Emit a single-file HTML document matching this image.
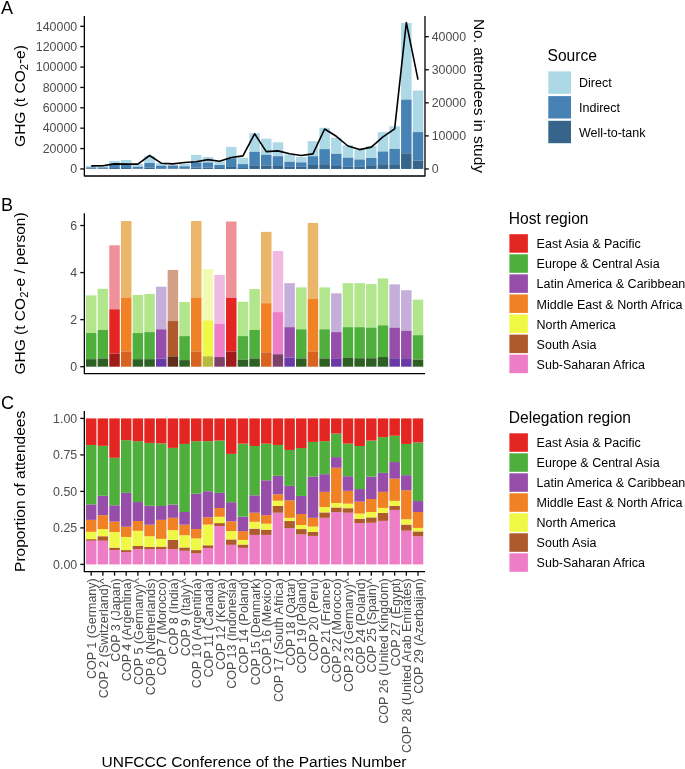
<!DOCTYPE html>
<html><head><meta charset="utf-8"><style>html,body{margin:0;padding:0;background:#ffffff;}body{width:685px;height:769px;overflow:hidden;position:relative;font-family:"Liberation Sans", sans-serif;}</style></head><body>
<svg width="685" height="769" viewBox="0 0 685 769" style="position:absolute;left:0;top:0;will-change:transform" font-family='"Liberation Sans", sans-serif'>
<rect x="0" y="0" width="685" height="769" fill="#ffffff"/>
<rect x="85.95" y="166.00" width="10.50" height="1.40" fill="#add8e6"/>
<rect x="85.95" y="167.40" width="10.50" height="0.90" fill="#4682b4"/>
<rect x="85.95" y="168.30" width="10.50" height="0.65" fill="#36648b"/>
<rect x="97.62" y="166.20" width="10.50" height="1.20" fill="#add8e6"/>
<rect x="97.62" y="167.40" width="10.50" height="0.90" fill="#4682b4"/>
<rect x="97.62" y="168.30" width="10.50" height="0.65" fill="#36648b"/>
<rect x="109.29" y="160.90" width="10.50" height="2.60" fill="#add8e6"/>
<rect x="109.29" y="163.50" width="10.50" height="4.50" fill="#4682b4"/>
<rect x="109.29" y="168.00" width="10.50" height="0.95" fill="#36648b"/>
<rect x="120.96" y="160.00" width="10.50" height="3.80" fill="#add8e6"/>
<rect x="120.96" y="163.80" width="10.50" height="4.20" fill="#4682b4"/>
<rect x="120.96" y="168.00" width="10.50" height="0.95" fill="#36648b"/>
<rect x="132.64" y="164.10" width="10.50" height="2.70" fill="#add8e6"/>
<rect x="132.64" y="166.80" width="10.50" height="1.50" fill="#4682b4"/>
<rect x="132.64" y="168.30" width="10.50" height="0.65" fill="#36648b"/>
<rect x="144.31" y="156.00" width="10.50" height="7.00" fill="#add8e6"/>
<rect x="144.31" y="163.00" width="10.50" height="4.50" fill="#4682b4"/>
<rect x="144.31" y="167.50" width="10.50" height="1.45" fill="#36648b"/>
<rect x="155.98" y="163.10" width="10.50" height="2.60" fill="#add8e6"/>
<rect x="155.98" y="165.70" width="10.50" height="2.60" fill="#4682b4"/>
<rect x="155.98" y="168.30" width="10.50" height="0.65" fill="#36648b"/>
<rect x="167.65" y="165.30" width="10.50" height="0.20" fill="#add8e6"/>
<rect x="167.65" y="165.50" width="10.50" height="2.80" fill="#4682b4"/>
<rect x="167.65" y="168.30" width="10.50" height="0.65" fill="#36648b"/>
<rect x="179.32" y="163.80" width="10.50" height="2.50" fill="#add8e6"/>
<rect x="179.32" y="166.30" width="10.50" height="2.00" fill="#4682b4"/>
<rect x="179.32" y="168.30" width="10.50" height="0.65" fill="#36648b"/>
<rect x="190.99" y="155.00" width="10.50" height="7.40" fill="#add8e6"/>
<rect x="190.99" y="162.40" width="10.50" height="5.10" fill="#4682b4"/>
<rect x="190.99" y="167.50" width="10.50" height="1.45" fill="#36648b"/>
<rect x="202.66" y="157.00" width="10.50" height="5.50" fill="#add8e6"/>
<rect x="202.66" y="162.50" width="10.50" height="5.00" fill="#4682b4"/>
<rect x="202.66" y="167.50" width="10.50" height="1.45" fill="#36648b"/>
<rect x="214.33" y="161.50" width="10.50" height="3.50" fill="#add8e6"/>
<rect x="214.33" y="165.00" width="10.50" height="3.00" fill="#4682b4"/>
<rect x="214.33" y="168.00" width="10.50" height="0.95" fill="#36648b"/>
<rect x="226.01" y="146.90" width="10.50" height="11.30" fill="#add8e6"/>
<rect x="226.01" y="158.20" width="10.50" height="8.80" fill="#4682b4"/>
<rect x="226.01" y="167.00" width="10.50" height="1.95" fill="#36648b"/>
<rect x="237.68" y="157.70" width="10.50" height="6.40" fill="#add8e6"/>
<rect x="237.68" y="164.10" width="10.50" height="3.90" fill="#4682b4"/>
<rect x="237.68" y="168.00" width="10.50" height="0.95" fill="#36648b"/>
<rect x="249.35" y="133.20" width="10.50" height="18.70" fill="#add8e6"/>
<rect x="249.35" y="151.90" width="10.50" height="13.40" fill="#4682b4"/>
<rect x="249.35" y="165.30" width="10.50" height="3.65" fill="#36648b"/>
<rect x="261.02" y="138.70" width="10.50" height="16.10" fill="#add8e6"/>
<rect x="261.02" y="154.80" width="10.50" height="10.80" fill="#4682b4"/>
<rect x="261.02" y="165.60" width="10.50" height="3.35" fill="#36648b"/>
<rect x="272.69" y="142.30" width="10.50" height="13.90" fill="#add8e6"/>
<rect x="272.69" y="156.20" width="10.50" height="9.80" fill="#4682b4"/>
<rect x="272.69" y="166.00" width="10.50" height="2.95" fill="#36648b"/>
<rect x="284.36" y="154.50" width="10.50" height="7.30" fill="#add8e6"/>
<rect x="284.36" y="161.80" width="10.50" height="5.00" fill="#4682b4"/>
<rect x="284.36" y="166.80" width="10.50" height="2.15" fill="#36648b"/>
<rect x="296.03" y="157.00" width="10.50" height="5.40" fill="#add8e6"/>
<rect x="296.03" y="162.40" width="10.50" height="4.40" fill="#4682b4"/>
<rect x="296.03" y="166.80" width="10.50" height="2.15" fill="#36648b"/>
<rect x="307.70" y="141.20" width="10.50" height="15.00" fill="#add8e6"/>
<rect x="307.70" y="156.20" width="10.50" height="8.80" fill="#4682b4"/>
<rect x="307.70" y="165.00" width="10.50" height="3.95" fill="#36648b"/>
<rect x="319.38" y="127.80" width="10.50" height="21.30" fill="#add8e6"/>
<rect x="319.38" y="149.10" width="10.50" height="15.10" fill="#4682b4"/>
<rect x="319.38" y="164.20" width="10.50" height="4.75" fill="#36648b"/>
<rect x="331.05" y="137.70" width="10.50" height="16.10" fill="#add8e6"/>
<rect x="331.05" y="153.80" width="10.50" height="12.20" fill="#4682b4"/>
<rect x="331.05" y="166.00" width="10.50" height="2.95" fill="#36648b"/>
<rect x="342.72" y="145.30" width="10.50" height="12.40" fill="#add8e6"/>
<rect x="342.72" y="157.70" width="10.50" height="9.10" fill="#4682b4"/>
<rect x="342.72" y="166.80" width="10.50" height="2.15" fill="#36648b"/>
<rect x="354.39" y="149.60" width="10.50" height="9.90" fill="#add8e6"/>
<rect x="354.39" y="159.50" width="10.50" height="7.30" fill="#4682b4"/>
<rect x="354.39" y="166.80" width="10.50" height="2.15" fill="#36648b"/>
<rect x="366.06" y="146.00" width="10.50" height="12.00" fill="#add8e6"/>
<rect x="366.06" y="158.00" width="10.50" height="8.00" fill="#4682b4"/>
<rect x="366.06" y="166.00" width="10.50" height="2.95" fill="#36648b"/>
<rect x="377.73" y="132.10" width="10.50" height="19.40" fill="#add8e6"/>
<rect x="377.73" y="151.50" width="10.50" height="12.70" fill="#4682b4"/>
<rect x="377.73" y="164.20" width="10.50" height="4.75" fill="#36648b"/>
<rect x="389.40" y="126.30" width="10.50" height="22.60" fill="#add8e6"/>
<rect x="389.40" y="148.90" width="10.50" height="15.30" fill="#4682b4"/>
<rect x="389.40" y="164.20" width="10.50" height="4.75" fill="#36648b"/>
<rect x="401.07" y="23.00" width="10.50" height="76.60" fill="#add8e6"/>
<rect x="401.07" y="99.60" width="10.50" height="53.70" fill="#4682b4"/>
<rect x="401.07" y="153.30" width="10.50" height="15.65" fill="#36648b"/>
<rect x="412.75" y="90.50" width="10.50" height="41.60" fill="#add8e6"/>
<rect x="412.75" y="132.10" width="10.50" height="28.50" fill="#4682b4"/>
<rect x="412.75" y="160.60" width="10.50" height="8.35" fill="#36648b"/>
<polyline points="91.20,165.90 102.87,165.80 114.55,163.90 126.22,164.10 137.89,164.10 149.56,155.50 161.23,163.20 172.90,163.90 184.57,162.50 196.24,161.70 207.92,159.60 219.59,161.30 231.26,157.50 242.93,155.90 254.60,133.80 266.27,151.60 277.94,150.90 289.61,153.80 301.28,155.50 312.96,153.90 324.63,129.00 336.30,136.30 347.97,146.00 359.64,149.60 371.31,147.10 382.98,136.90 394.65,128.80 406.33,22.60 418.00,79.60" fill="none" stroke="#000" stroke-width="1.6" stroke-linejoin="round"/>
<path d="M84.35,16.00 L84.35,176.00 L425.00,176.00 L425.00,16.00" fill="none" stroke="#000" stroke-width="1.3" stroke-linejoin="round"/>
<line x1="80.25" y1="168.95" x2="84.35" y2="168.95" stroke="#111" stroke-width="1.35"/>
<text x="77.20" y="173.25" font-size="12.4" fill="#4d4d4d" text-anchor="end" >0</text>
<line x1="80.25" y1="148.57" x2="84.35" y2="148.57" stroke="#111" stroke-width="1.35"/>
<text x="77.20" y="152.87" font-size="12.4" fill="#4d4d4d" text-anchor="end" >20000</text>
<line x1="80.25" y1="128.19" x2="84.35" y2="128.19" stroke="#111" stroke-width="1.35"/>
<text x="77.20" y="132.49" font-size="12.4" fill="#4d4d4d" text-anchor="end" >40000</text>
<line x1="80.25" y1="107.81" x2="84.35" y2="107.81" stroke="#111" stroke-width="1.35"/>
<text x="77.20" y="112.11" font-size="12.4" fill="#4d4d4d" text-anchor="end" >60000</text>
<line x1="80.25" y1="87.44" x2="84.35" y2="87.44" stroke="#111" stroke-width="1.35"/>
<text x="77.20" y="91.74" font-size="12.4" fill="#4d4d4d" text-anchor="end" >80000</text>
<line x1="80.25" y1="67.06" x2="84.35" y2="67.06" stroke="#111" stroke-width="1.35"/>
<text x="77.20" y="71.36" font-size="12.4" fill="#4d4d4d" text-anchor="end" >100000</text>
<line x1="80.25" y1="46.68" x2="84.35" y2="46.68" stroke="#111" stroke-width="1.35"/>
<text x="77.20" y="50.98" font-size="12.4" fill="#4d4d4d" text-anchor="end" >120000</text>
<line x1="80.25" y1="26.30" x2="84.35" y2="26.30" stroke="#111" stroke-width="1.35"/>
<text x="77.20" y="30.60" font-size="12.4" fill="#4d4d4d" text-anchor="end" >140000</text>
<line x1="425.00" y1="168.95" x2="428.80" y2="168.95" stroke="#111" stroke-width="1.35"/>
<text x="431.70" y="173.25" font-size="12.4" fill="#4d4d4d" text-anchor="start" >0</text>
<line x1="425.00" y1="135.89" x2="428.80" y2="135.89" stroke="#111" stroke-width="1.35"/>
<text x="431.70" y="140.19" font-size="12.4" fill="#4d4d4d" text-anchor="start" >10000</text>
<line x1="425.00" y1="102.82" x2="428.80" y2="102.82" stroke="#111" stroke-width="1.35"/>
<text x="431.70" y="107.12" font-size="12.4" fill="#4d4d4d" text-anchor="start" >20000</text>
<line x1="425.00" y1="69.76" x2="428.80" y2="69.76" stroke="#111" stroke-width="1.35"/>
<text x="431.70" y="74.06" font-size="12.4" fill="#4d4d4d" text-anchor="start" >30000</text>
<line x1="425.00" y1="36.70" x2="428.80" y2="36.70" stroke="#111" stroke-width="1.35"/>
<text x="431.70" y="41.00" font-size="12.4" fill="#4d4d4d" text-anchor="start" >40000</text>
<text transform="translate(24.8,96.00) rotate(-90)" font-size="15.5" text-anchor="middle">GHG (t CO<tspan font-size="11.16" dy="3">2</tspan><tspan dy="-3">-e)</tspan></text>
<text transform="translate(474.1,96.00) rotate(90)" font-size="15.5" text-anchor="middle">No. attendees in study</text>
<text x="1.00" y="13.90" font-size="18" fill="#000" text-anchor="start" >A</text>
<text x="547.50" y="61.30" font-size="15.6" fill="#000" text-anchor="start" >Source</text>
<rect x="548.30" y="71.40" width="22.70" height="22.40" fill="#add8e6"/>
<text x="579.00" y="87.20" font-size="12.5" fill="#000" text-anchor="start" >Direct</text>
<rect x="548.30" y="96.10" width="22.70" height="22.40" fill="#4682b4"/>
<text x="579.00" y="111.90" font-size="12.5" fill="#000" text-anchor="start" >Indirect</text>
<rect x="548.30" y="120.80" width="22.70" height="22.40" fill="#36648b"/>
<text x="579.00" y="136.60" font-size="12.5" fill="#000" text-anchor="start" >Well-to-tank</text>
<rect x="85.95" y="295.40" width="10.50" height="37.65" fill="#b2e68c"/>
<rect x="85.95" y="333.05" width="10.50" height="26.12" fill="#4eaf3c"/>
<rect x="85.95" y="359.17" width="10.50" height="7.53" fill="#2d5f23"/>
<rect x="97.62" y="288.82" width="10.50" height="41.18" fill="#b2e68c"/>
<rect x="97.62" y="329.99" width="10.50" height="28.47" fill="#4eaf3c"/>
<rect x="97.62" y="358.46" width="10.50" height="8.24" fill="#2d5f23"/>
<rect x="109.29" y="245.29" width="10.50" height="64.00" fill="#ee9198"/>
<rect x="109.29" y="309.29" width="10.50" height="44.24" fill="#e42622"/>
<rect x="109.29" y="353.52" width="10.50" height="13.18" fill="#a01c1a"/>
<rect x="120.96" y="221.05" width="10.50" height="76.47" fill="#ebb66a"/>
<rect x="120.96" y="297.52" width="10.50" height="53.88" fill="#f08124"/>
<rect x="120.96" y="351.41" width="10.50" height="15.29" fill="#d8621f"/>
<rect x="132.64" y="294.93" width="10.50" height="38.12" fill="#b2e68c"/>
<rect x="132.64" y="333.05" width="10.50" height="26.12" fill="#4eaf3c"/>
<rect x="132.64" y="359.17" width="10.50" height="7.53" fill="#2d5f23"/>
<rect x="144.31" y="293.99" width="10.50" height="38.12" fill="#b2e68c"/>
<rect x="144.31" y="332.11" width="10.50" height="27.06" fill="#4eaf3c"/>
<rect x="144.31" y="359.17" width="10.50" height="7.53" fill="#2d5f23"/>
<rect x="155.98" y="286.70" width="10.50" height="42.59" fill="#c5afda"/>
<rect x="155.98" y="329.29" width="10.50" height="29.18" fill="#964eaa"/>
<rect x="155.98" y="358.46" width="10.50" height="8.24" fill="#693aa5"/>
<rect x="167.65" y="269.99" width="10.50" height="51.06" fill="#d2a087"/>
<rect x="167.65" y="321.05" width="10.50" height="35.30" fill="#af5a2d"/>
<rect x="167.65" y="356.35" width="10.50" height="10.35" fill="#5f2d19"/>
<rect x="179.32" y="301.99" width="10.50" height="34.12" fill="#b2e68c"/>
<rect x="179.32" y="336.11" width="10.50" height="24.00" fill="#4eaf3c"/>
<rect x="179.32" y="360.11" width="10.50" height="6.59" fill="#2d5f23"/>
<rect x="190.99" y="221.05" width="10.50" height="76.47" fill="#ebb66a"/>
<rect x="190.99" y="297.52" width="10.50" height="53.88" fill="#f08124"/>
<rect x="190.99" y="351.41" width="10.50" height="15.29" fill="#d8621f"/>
<rect x="202.66" y="269.05" width="10.50" height="51.30" fill="#f3fab4"/>
<rect x="202.66" y="320.35" width="10.50" height="36.00" fill="#f0f846"/>
<rect x="202.66" y="356.35" width="10.50" height="10.35" fill="#b9b93c"/>
<rect x="214.33" y="274.93" width="10.50" height="48.71" fill="#f0b9e1"/>
<rect x="214.33" y="323.64" width="10.50" height="33.41" fill="#ee7dc8"/>
<rect x="214.33" y="357.05" width="10.50" height="9.65" fill="#7d4169"/>
<rect x="226.01" y="221.52" width="10.50" height="76.47" fill="#ee9198"/>
<rect x="226.01" y="297.99" width="10.50" height="53.41" fill="#e42622"/>
<rect x="226.01" y="351.41" width="10.50" height="15.29" fill="#a01c1a"/>
<rect x="237.68" y="301.76" width="10.50" height="34.35" fill="#b2e68c"/>
<rect x="237.68" y="336.11" width="10.50" height="23.53" fill="#4eaf3c"/>
<rect x="237.68" y="359.64" width="10.50" height="7.06" fill="#2d5f23"/>
<rect x="249.35" y="289.05" width="10.50" height="40.94" fill="#b2e68c"/>
<rect x="249.35" y="329.99" width="10.50" height="28.47" fill="#4eaf3c"/>
<rect x="249.35" y="358.46" width="10.50" height="8.24" fill="#2d5f23"/>
<rect x="261.02" y="231.87" width="10.50" height="71.30" fill="#ebb66a"/>
<rect x="261.02" y="303.17" width="10.50" height="49.18" fill="#f08124"/>
<rect x="261.02" y="352.35" width="10.50" height="14.35" fill="#d8621f"/>
<rect x="272.69" y="250.93" width="10.50" height="61.18" fill="#f0b9e1"/>
<rect x="272.69" y="312.11" width="10.50" height="42.12" fill="#ee7dc8"/>
<rect x="272.69" y="354.23" width="10.50" height="12.47" fill="#7d4169"/>
<rect x="284.36" y="283.17" width="10.50" height="44.00" fill="#c5afda"/>
<rect x="284.36" y="327.17" width="10.50" height="30.35" fill="#964eaa"/>
<rect x="284.36" y="357.52" width="10.50" height="9.18" fill="#693aa5"/>
<rect x="296.03" y="287.40" width="10.50" height="41.88" fill="#b2e68c"/>
<rect x="296.03" y="329.29" width="10.50" height="29.18" fill="#4eaf3c"/>
<rect x="296.03" y="358.46" width="10.50" height="8.24" fill="#2d5f23"/>
<rect x="307.70" y="222.93" width="10.50" height="76.00" fill="#ebb66a"/>
<rect x="307.70" y="298.93" width="10.50" height="52.47" fill="#f08124"/>
<rect x="307.70" y="351.41" width="10.50" height="15.29" fill="#d8621f"/>
<rect x="319.38" y="287.40" width="10.50" height="41.88" fill="#b2e68c"/>
<rect x="319.38" y="329.29" width="10.50" height="29.18" fill="#4eaf3c"/>
<rect x="319.38" y="358.46" width="10.50" height="8.24" fill="#2d5f23"/>
<rect x="331.05" y="293.29" width="10.50" height="38.82" fill="#c5afda"/>
<rect x="331.05" y="332.11" width="10.50" height="26.82" fill="#964eaa"/>
<rect x="331.05" y="358.94" width="10.50" height="7.76" fill="#693aa5"/>
<rect x="342.72" y="283.17" width="10.50" height="44.00" fill="#b2e68c"/>
<rect x="342.72" y="327.17" width="10.50" height="30.35" fill="#4eaf3c"/>
<rect x="342.72" y="357.52" width="10.50" height="9.18" fill="#2d5f23"/>
<rect x="354.39" y="283.17" width="10.50" height="44.00" fill="#b2e68c"/>
<rect x="354.39" y="327.17" width="10.50" height="31.06" fill="#4eaf3c"/>
<rect x="354.39" y="358.23" width="10.50" height="8.47" fill="#2d5f23"/>
<rect x="366.06" y="284.11" width="10.50" height="43.53" fill="#b2e68c"/>
<rect x="366.06" y="327.64" width="10.50" height="30.59" fill="#4eaf3c"/>
<rect x="366.06" y="358.23" width="10.50" height="8.47" fill="#2d5f23"/>
<rect x="377.73" y="278.46" width="10.50" height="46.82" fill="#b2e68c"/>
<rect x="377.73" y="325.29" width="10.50" height="31.77" fill="#4eaf3c"/>
<rect x="377.73" y="357.05" width="10.50" height="9.65" fill="#2d5f23"/>
<rect x="389.40" y="284.34" width="10.50" height="43.30" fill="#c5afda"/>
<rect x="389.40" y="327.64" width="10.50" height="30.59" fill="#964eaa"/>
<rect x="389.40" y="358.23" width="10.50" height="8.47" fill="#693aa5"/>
<rect x="401.07" y="290.23" width="10.50" height="40.47" fill="#c5afda"/>
<rect x="401.07" y="330.70" width="10.50" height="28.24" fill="#964eaa"/>
<rect x="401.07" y="358.94" width="10.50" height="7.76" fill="#693aa5"/>
<rect x="412.75" y="299.64" width="10.50" height="35.53" fill="#b2e68c"/>
<rect x="412.75" y="335.17" width="10.50" height="24.47" fill="#4eaf3c"/>
<rect x="412.75" y="359.64" width="10.50" height="7.06" fill="#2d5f23"/>
<path d="M84.35,213.20 L84.35,373.70 L425.00,373.70" fill="none" stroke="#000" stroke-width="1.3" stroke-linejoin="round"/>
<line x1="80.25" y1="366.70" x2="84.35" y2="366.70" stroke="#111" stroke-width="1.35"/>
<text x="77.20" y="371.00" font-size="12.4" fill="#4d4d4d" text-anchor="end" >0</text>
<line x1="80.25" y1="319.64" x2="84.35" y2="319.64" stroke="#111" stroke-width="1.35"/>
<text x="77.20" y="323.94" font-size="12.4" fill="#4d4d4d" text-anchor="end" >2</text>
<line x1="80.25" y1="272.58" x2="84.35" y2="272.58" stroke="#111" stroke-width="1.35"/>
<text x="77.20" y="276.88" font-size="12.4" fill="#4d4d4d" text-anchor="end" >4</text>
<line x1="80.25" y1="225.52" x2="84.35" y2="225.52" stroke="#111" stroke-width="1.35"/>
<text x="77.20" y="229.82" font-size="12.4" fill="#4d4d4d" text-anchor="end" >6</text>
<text transform="translate(24.8,293.45) rotate(-90)" font-size="15.5" text-anchor="middle">GHG (t CO<tspan font-size="11.16" dy="3">2</tspan><tspan dy="-3">-e / person)</tspan></text>
<text x="1.00" y="210.90" font-size="18" fill="#000" text-anchor="start" >B</text>
<text x="508.80" y="224.40" font-size="15.6" fill="#000" text-anchor="start" >Host region</text>
<rect x="509.40" y="234.20" width="18.50" height="18.50" fill="#e42622"/>
<text x="536.60" y="248.30" font-size="12.5" fill="#000" text-anchor="start" >East Asia &amp; Pacific</text>
<rect x="509.40" y="254.28" width="18.50" height="18.50" fill="#4eaf3c"/>
<text x="536.60" y="268.38" font-size="12.5" fill="#000" text-anchor="start" >Europe &amp; Central Asia</text>
<rect x="509.40" y="274.36" width="18.50" height="18.50" fill="#964eaa"/>
<text x="536.60" y="288.46" font-size="12.5" fill="#000" text-anchor="start" >Latin America &amp; Caribbean</text>
<rect x="509.40" y="294.44" width="18.50" height="18.50" fill="#f08124"/>
<text x="536.60" y="308.54" font-size="12.5" fill="#000" text-anchor="start" >Middle East &amp; North Africa</text>
<rect x="509.40" y="314.52" width="18.50" height="18.50" fill="#f0f846"/>
<text x="536.60" y="328.62" font-size="12.5" fill="#000" text-anchor="start" >North America</text>
<rect x="509.40" y="334.60" width="18.50" height="18.50" fill="#af5a2d"/>
<text x="536.60" y="348.70" font-size="12.5" fill="#000" text-anchor="start" >South Asia</text>
<rect x="509.40" y="354.68" width="18.50" height="18.50" fill="#ee7dc8"/>
<text x="536.60" y="368.78" font-size="12.5" fill="#000" text-anchor="start" >Sub-Saharan Africa</text>
<rect x="85.95" y="540.75" width="10.50" height="23.65" fill="#ee7dc8"/>
<rect x="85.95" y="539.14" width="10.50" height="1.61" fill="#af5a2d"/>
<rect x="85.95" y="531.84" width="10.50" height="7.30" fill="#f0f846"/>
<rect x="85.95" y="519.87" width="10.50" height="11.97" fill="#f08124"/>
<rect x="85.95" y="504.39" width="10.50" height="15.48" fill="#964eaa"/>
<rect x="85.95" y="444.97" width="10.50" height="59.42" fill="#4eaf3c"/>
<rect x="85.95" y="418.40" width="10.50" height="26.57" fill="#e42622"/>
<rect x="97.62" y="540.75" width="10.50" height="23.65" fill="#ee7dc8"/>
<rect x="97.62" y="536.22" width="10.50" height="4.53" fill="#af5a2d"/>
<rect x="97.62" y="529.07" width="10.50" height="7.15" fill="#f0f846"/>
<rect x="97.62" y="515.20" width="10.50" height="13.87" fill="#f08124"/>
<rect x="97.62" y="495.78" width="10.50" height="19.42" fill="#964eaa"/>
<rect x="97.62" y="445.85" width="10.50" height="49.93" fill="#4eaf3c"/>
<rect x="97.62" y="418.40" width="10.50" height="27.45" fill="#e42622"/>
<rect x="109.29" y="550.09" width="10.50" height="14.31" fill="#ee7dc8"/>
<rect x="109.29" y="547.61" width="10.50" height="2.48" fill="#af5a2d"/>
<rect x="109.29" y="531.99" width="10.50" height="15.62" fill="#f0f846"/>
<rect x="109.29" y="521.62" width="10.50" height="10.37" fill="#f08124"/>
<rect x="109.29" y="505.27" width="10.50" height="16.35" fill="#964eaa"/>
<rect x="109.29" y="457.82" width="10.50" height="47.45" fill="#4eaf3c"/>
<rect x="109.29" y="418.40" width="10.50" height="39.42" fill="#e42622"/>
<rect x="120.96" y="552.14" width="10.50" height="12.26" fill="#ee7dc8"/>
<rect x="120.96" y="550.09" width="10.50" height="2.04" fill="#af5a2d"/>
<rect x="120.96" y="536.95" width="10.50" height="13.14" fill="#f0f846"/>
<rect x="120.96" y="526.73" width="10.50" height="10.22" fill="#f08124"/>
<rect x="120.96" y="492.86" width="10.50" height="33.87" fill="#964eaa"/>
<rect x="120.96" y="440.15" width="10.50" height="52.71" fill="#4eaf3c"/>
<rect x="120.96" y="418.40" width="10.50" height="21.75" fill="#e42622"/>
<rect x="132.64" y="549.07" width="10.50" height="15.33" fill="#ee7dc8"/>
<rect x="132.64" y="546.00" width="10.50" height="3.07" fill="#af5a2d"/>
<rect x="132.64" y="530.82" width="10.50" height="15.18" fill="#f0f846"/>
<rect x="132.64" y="521.04" width="10.50" height="9.78" fill="#f08124"/>
<rect x="132.64" y="502.06" width="10.50" height="18.98" fill="#964eaa"/>
<rect x="132.64" y="441.18" width="10.50" height="60.88" fill="#4eaf3c"/>
<rect x="132.64" y="418.40" width="10.50" height="22.78" fill="#e42622"/>
<rect x="144.31" y="549.07" width="10.50" height="15.33" fill="#ee7dc8"/>
<rect x="144.31" y="547.03" width="10.50" height="2.04" fill="#af5a2d"/>
<rect x="144.31" y="536.22" width="10.50" height="10.80" fill="#f0f846"/>
<rect x="144.31" y="524.69" width="10.50" height="11.53" fill="#f08124"/>
<rect x="144.31" y="505.71" width="10.50" height="18.98" fill="#964eaa"/>
<rect x="144.31" y="442.93" width="10.50" height="62.78" fill="#4eaf3c"/>
<rect x="144.31" y="418.40" width="10.50" height="24.53" fill="#e42622"/>
<rect x="155.98" y="549.07" width="10.50" height="15.33" fill="#ee7dc8"/>
<rect x="155.98" y="546.59" width="10.50" height="2.48" fill="#af5a2d"/>
<rect x="155.98" y="538.85" width="10.50" height="7.74" fill="#f0f846"/>
<rect x="155.98" y="519.87" width="10.50" height="18.98" fill="#f08124"/>
<rect x="155.98" y="506.00" width="10.50" height="13.87" fill="#964eaa"/>
<rect x="155.98" y="443.37" width="10.50" height="62.63" fill="#4eaf3c"/>
<rect x="155.98" y="418.40" width="10.50" height="24.97" fill="#e42622"/>
<rect x="167.65" y="549.07" width="10.50" height="15.33" fill="#ee7dc8"/>
<rect x="167.65" y="539.87" width="10.50" height="9.20" fill="#af5a2d"/>
<rect x="167.65" y="530.09" width="10.50" height="9.78" fill="#f0f846"/>
<rect x="167.65" y="517.83" width="10.50" height="12.26" fill="#f08124"/>
<rect x="167.65" y="504.54" width="10.50" height="13.29" fill="#964eaa"/>
<rect x="167.65" y="447.89" width="10.50" height="56.65" fill="#4eaf3c"/>
<rect x="167.65" y="418.40" width="10.50" height="29.49" fill="#e42622"/>
<rect x="179.32" y="550.82" width="10.50" height="13.58" fill="#ee7dc8"/>
<rect x="179.32" y="547.46" width="10.50" height="3.36" fill="#af5a2d"/>
<rect x="179.32" y="535.20" width="10.50" height="12.26" fill="#f0f846"/>
<rect x="179.32" y="524.69" width="10.50" height="10.51" fill="#f08124"/>
<rect x="179.32" y="511.99" width="10.50" height="12.70" fill="#964eaa"/>
<rect x="179.32" y="443.95" width="10.50" height="68.04" fill="#4eaf3c"/>
<rect x="179.32" y="418.40" width="10.50" height="25.55" fill="#e42622"/>
<rect x="190.99" y="553.30" width="10.50" height="11.10" fill="#ee7dc8"/>
<rect x="190.99" y="550.09" width="10.50" height="3.21" fill="#af5a2d"/>
<rect x="190.99" y="538.41" width="10.50" height="11.68" fill="#f0f846"/>
<rect x="190.99" y="529.07" width="10.50" height="9.34" fill="#f08124"/>
<rect x="190.99" y="493.74" width="10.50" height="35.33" fill="#964eaa"/>
<rect x="190.99" y="441.18" width="10.50" height="52.56" fill="#4eaf3c"/>
<rect x="190.99" y="418.40" width="10.50" height="22.78" fill="#e42622"/>
<rect x="202.66" y="548.05" width="10.50" height="16.35" fill="#ee7dc8"/>
<rect x="202.66" y="545.27" width="10.50" height="2.77" fill="#af5a2d"/>
<rect x="202.66" y="524.54" width="10.50" height="20.73" fill="#f0f846"/>
<rect x="202.66" y="517.24" width="10.50" height="7.30" fill="#f08124"/>
<rect x="202.66" y="491.25" width="10.50" height="25.99" fill="#964eaa"/>
<rect x="202.66" y="441.18" width="10.50" height="50.08" fill="#4eaf3c"/>
<rect x="202.66" y="418.40" width="10.50" height="22.78" fill="#e42622"/>
<rect x="214.33" y="526.00" width="10.50" height="38.40" fill="#ee7dc8"/>
<rect x="214.33" y="523.08" width="10.50" height="2.92" fill="#af5a2d"/>
<rect x="214.33" y="516.80" width="10.50" height="6.28" fill="#f0f846"/>
<rect x="214.33" y="508.04" width="10.50" height="8.76" fill="#f08124"/>
<rect x="214.33" y="492.86" width="10.50" height="15.18" fill="#964eaa"/>
<rect x="214.33" y="440.59" width="10.50" height="52.27" fill="#4eaf3c"/>
<rect x="214.33" y="418.40" width="10.50" height="22.19" fill="#e42622"/>
<rect x="226.01" y="544.84" width="10.50" height="19.56" fill="#ee7dc8"/>
<rect x="226.01" y="539.43" width="10.50" height="5.40" fill="#af5a2d"/>
<rect x="226.01" y="531.11" width="10.50" height="8.32" fill="#f0f846"/>
<rect x="226.01" y="521.33" width="10.50" height="9.78" fill="#f08124"/>
<rect x="226.01" y="502.20" width="10.50" height="19.13" fill="#964eaa"/>
<rect x="226.01" y="453.88" width="10.50" height="48.33" fill="#4eaf3c"/>
<rect x="226.01" y="418.40" width="10.50" height="35.48" fill="#e42622"/>
<rect x="237.68" y="547.90" width="10.50" height="16.50" fill="#ee7dc8"/>
<rect x="237.68" y="544.54" width="10.50" height="3.36" fill="#af5a2d"/>
<rect x="237.68" y="539.87" width="10.50" height="4.67" fill="#f0f846"/>
<rect x="237.68" y="531.11" width="10.50" height="8.76" fill="#f08124"/>
<rect x="237.68" y="516.66" width="10.50" height="14.45" fill="#964eaa"/>
<rect x="237.68" y="443.66" width="10.50" height="73.00" fill="#4eaf3c"/>
<rect x="237.68" y="418.40" width="10.50" height="25.26" fill="#e42622"/>
<rect x="249.35" y="534.91" width="10.50" height="29.49" fill="#ee7dc8"/>
<rect x="249.35" y="528.63" width="10.50" height="6.28" fill="#af5a2d"/>
<rect x="249.35" y="521.77" width="10.50" height="6.86" fill="#f0f846"/>
<rect x="249.35" y="512.72" width="10.50" height="9.05" fill="#f08124"/>
<rect x="249.35" y="495.34" width="10.50" height="17.37" fill="#964eaa"/>
<rect x="249.35" y="445.99" width="10.50" height="49.35" fill="#4eaf3c"/>
<rect x="249.35" y="418.40" width="10.50" height="27.59" fill="#e42622"/>
<rect x="261.02" y="534.91" width="10.50" height="29.49" fill="#ee7dc8"/>
<rect x="261.02" y="529.65" width="10.50" height="5.26" fill="#af5a2d"/>
<rect x="261.02" y="523.67" width="10.50" height="5.99" fill="#f0f846"/>
<rect x="261.02" y="515.20" width="10.50" height="8.47" fill="#f08124"/>
<rect x="261.02" y="480.30" width="10.50" height="34.89" fill="#964eaa"/>
<rect x="261.02" y="443.66" width="10.50" height="36.65" fill="#4eaf3c"/>
<rect x="261.02" y="418.40" width="10.50" height="25.26" fill="#e42622"/>
<rect x="272.69" y="512.72" width="10.50" height="51.68" fill="#ee7dc8"/>
<rect x="272.69" y="506.00" width="10.50" height="6.72" fill="#af5a2d"/>
<rect x="272.69" y="500.74" width="10.50" height="5.26" fill="#f0f846"/>
<rect x="272.69" y="494.32" width="10.50" height="6.42" fill="#f08124"/>
<rect x="272.69" y="475.78" width="10.50" height="18.54" fill="#964eaa"/>
<rect x="272.69" y="444.97" width="10.50" height="30.81" fill="#4eaf3c"/>
<rect x="272.69" y="418.40" width="10.50" height="26.57" fill="#e42622"/>
<rect x="284.36" y="528.05" width="10.50" height="36.35" fill="#ee7dc8"/>
<rect x="284.36" y="521.04" width="10.50" height="7.01" fill="#af5a2d"/>
<rect x="284.36" y="517.83" width="10.50" height="3.21" fill="#f0f846"/>
<rect x="284.36" y="500.31" width="10.50" height="17.52" fill="#f08124"/>
<rect x="284.36" y="485.85" width="10.50" height="14.45" fill="#964eaa"/>
<rect x="284.36" y="449.94" width="10.50" height="35.92" fill="#4eaf3c"/>
<rect x="284.36" y="418.40" width="10.50" height="31.54" fill="#e42622"/>
<rect x="296.03" y="534.47" width="10.50" height="29.93" fill="#ee7dc8"/>
<rect x="296.03" y="529.07" width="10.50" height="5.40" fill="#af5a2d"/>
<rect x="296.03" y="524.98" width="10.50" height="4.09" fill="#f0f846"/>
<rect x="296.03" y="514.03" width="10.50" height="10.95" fill="#f08124"/>
<rect x="296.03" y="495.93" width="10.50" height="18.10" fill="#964eaa"/>
<rect x="296.03" y="448.04" width="10.50" height="47.89" fill="#4eaf3c"/>
<rect x="296.03" y="418.40" width="10.50" height="29.64" fill="#e42622"/>
<rect x="307.70" y="535.93" width="10.50" height="28.47" fill="#ee7dc8"/>
<rect x="307.70" y="531.99" width="10.50" height="3.94" fill="#af5a2d"/>
<rect x="307.70" y="526.59" width="10.50" height="5.40" fill="#f0f846"/>
<rect x="307.70" y="517.83" width="10.50" height="8.76" fill="#f08124"/>
<rect x="307.70" y="476.65" width="10.50" height="41.17" fill="#964eaa"/>
<rect x="307.70" y="441.91" width="10.50" height="34.75" fill="#4eaf3c"/>
<rect x="307.70" y="418.40" width="10.50" height="23.51" fill="#e42622"/>
<rect x="319.38" y="517.83" width="10.50" height="46.57" fill="#ee7dc8"/>
<rect x="319.38" y="512.42" width="10.50" height="5.40" fill="#af5a2d"/>
<rect x="319.38" y="507.02" width="10.50" height="5.40" fill="#f0f846"/>
<rect x="319.38" y="491.84" width="10.50" height="15.18" fill="#f08124"/>
<rect x="319.38" y="474.17" width="10.50" height="17.67" fill="#964eaa"/>
<rect x="319.38" y="441.18" width="10.50" height="33.00" fill="#4eaf3c"/>
<rect x="319.38" y="418.40" width="10.50" height="22.78" fill="#e42622"/>
<rect x="331.05" y="511.99" width="10.50" height="52.41" fill="#ee7dc8"/>
<rect x="331.05" y="507.46" width="10.50" height="4.53" fill="#af5a2d"/>
<rect x="331.05" y="502.93" width="10.50" height="4.53" fill="#f0f846"/>
<rect x="331.05" y="467.75" width="10.50" height="35.19" fill="#f08124"/>
<rect x="331.05" y="457.09" width="10.50" height="10.66" fill="#964eaa"/>
<rect x="331.05" y="433.58" width="10.50" height="23.51" fill="#4eaf3c"/>
<rect x="331.05" y="418.40" width="10.50" height="15.18" fill="#e42622"/>
<rect x="342.72" y="512.72" width="10.50" height="51.68" fill="#ee7dc8"/>
<rect x="342.72" y="508.19" width="10.50" height="4.53" fill="#af5a2d"/>
<rect x="342.72" y="503.66" width="10.50" height="4.53" fill="#f0f846"/>
<rect x="342.72" y="490.82" width="10.50" height="12.85" fill="#f08124"/>
<rect x="342.72" y="476.22" width="10.50" height="14.60" fill="#964eaa"/>
<rect x="342.72" y="443.66" width="10.50" height="32.56" fill="#4eaf3c"/>
<rect x="342.72" y="418.40" width="10.50" height="25.26" fill="#e42622"/>
<rect x="354.39" y="523.08" width="10.50" height="41.32" fill="#ee7dc8"/>
<rect x="354.39" y="518.70" width="10.50" height="4.38" fill="#af5a2d"/>
<rect x="354.39" y="513.59" width="10.50" height="5.11" fill="#f0f846"/>
<rect x="354.39" y="501.62" width="10.50" height="11.97" fill="#f08124"/>
<rect x="354.39" y="489.06" width="10.50" height="12.56" fill="#964eaa"/>
<rect x="354.39" y="445.99" width="10.50" height="43.07" fill="#4eaf3c"/>
<rect x="354.39" y="418.40" width="10.50" height="27.59" fill="#e42622"/>
<rect x="366.06" y="522.79" width="10.50" height="41.61" fill="#ee7dc8"/>
<rect x="366.06" y="517.39" width="10.50" height="5.40" fill="#af5a2d"/>
<rect x="366.06" y="511.99" width="10.50" height="5.40" fill="#f0f846"/>
<rect x="366.06" y="498.99" width="10.50" height="12.99" fill="#f08124"/>
<rect x="366.06" y="476.65" width="10.50" height="22.34" fill="#964eaa"/>
<rect x="366.06" y="440.59" width="10.50" height="36.06" fill="#4eaf3c"/>
<rect x="366.06" y="418.40" width="10.50" height="22.19" fill="#e42622"/>
<rect x="377.73" y="520.89" width="10.50" height="43.51" fill="#ee7dc8"/>
<rect x="377.73" y="513.01" width="10.50" height="7.88" fill="#af5a2d"/>
<rect x="377.73" y="507.90" width="10.50" height="5.11" fill="#f0f846"/>
<rect x="377.73" y="491.84" width="10.50" height="16.06" fill="#f08124"/>
<rect x="377.73" y="472.86" width="10.50" height="18.98" fill="#964eaa"/>
<rect x="377.73" y="437.09" width="10.50" height="35.77" fill="#4eaf3c"/>
<rect x="377.73" y="418.40" width="10.50" height="18.69" fill="#e42622"/>
<rect x="389.40" y="509.94" width="10.50" height="54.46" fill="#ee7dc8"/>
<rect x="389.40" y="505.85" width="10.50" height="4.09" fill="#af5a2d"/>
<rect x="389.40" y="500.89" width="10.50" height="4.96" fill="#f0f846"/>
<rect x="389.40" y="478.70" width="10.50" height="22.19" fill="#f08124"/>
<rect x="389.40" y="462.05" width="10.50" height="16.64" fill="#964eaa"/>
<rect x="389.40" y="435.77" width="10.50" height="26.28" fill="#4eaf3c"/>
<rect x="389.40" y="418.40" width="10.50" height="17.37" fill="#e42622"/>
<rect x="401.07" y="530.67" width="10.50" height="33.73" fill="#ee7dc8"/>
<rect x="401.07" y="524.54" width="10.50" height="6.13" fill="#af5a2d"/>
<rect x="401.07" y="519.29" width="10.50" height="5.26" fill="#f0f846"/>
<rect x="401.07" y="490.23" width="10.50" height="29.05" fill="#f08124"/>
<rect x="401.07" y="475.19" width="10.50" height="15.04" fill="#964eaa"/>
<rect x="401.07" y="443.95" width="10.50" height="31.24" fill="#4eaf3c"/>
<rect x="401.07" y="418.40" width="10.50" height="25.55" fill="#e42622"/>
<rect x="412.75" y="536.37" width="10.50" height="28.03" fill="#ee7dc8"/>
<rect x="412.75" y="531.40" width="10.50" height="4.96" fill="#af5a2d"/>
<rect x="412.75" y="527.90" width="10.50" height="3.50" fill="#f0f846"/>
<rect x="412.75" y="511.99" width="10.50" height="15.91" fill="#f08124"/>
<rect x="412.75" y="501.04" width="10.50" height="10.95" fill="#964eaa"/>
<rect x="412.75" y="442.49" width="10.50" height="58.55" fill="#4eaf3c"/>
<rect x="412.75" y="418.40" width="10.50" height="24.09" fill="#e42622"/>
<path d="M84.35,411.10 L84.35,571.70 L425.00,571.70" fill="none" stroke="#000" stroke-width="1.3" stroke-linejoin="round"/>
<line x1="80.25" y1="564.40" x2="84.35" y2="564.40" stroke="#111" stroke-width="1.35"/>
<text x="77.20" y="568.70" font-size="12.4" fill="#4d4d4d" text-anchor="end" >0.00</text>
<line x1="80.25" y1="527.90" x2="84.35" y2="527.90" stroke="#111" stroke-width="1.35"/>
<text x="77.20" y="532.20" font-size="12.4" fill="#4d4d4d" text-anchor="end" >0.25</text>
<line x1="80.25" y1="491.40" x2="84.35" y2="491.40" stroke="#111" stroke-width="1.35"/>
<text x="77.20" y="495.70" font-size="12.4" fill="#4d4d4d" text-anchor="end" >0.50</text>
<line x1="80.25" y1="454.90" x2="84.35" y2="454.90" stroke="#111" stroke-width="1.35"/>
<text x="77.20" y="459.20" font-size="12.4" fill="#4d4d4d" text-anchor="end" >0.75</text>
<line x1="80.25" y1="418.40" x2="84.35" y2="418.40" stroke="#111" stroke-width="1.35"/>
<text x="77.20" y="422.70" font-size="12.4" fill="#4d4d4d" text-anchor="end" >1.00</text>
<line x1="91.20" y1="571.70" x2="91.20" y2="575.70" stroke="#111" stroke-width="1.35"/>
<text transform="translate(96.30,578.20) rotate(-90)" font-size="12.55" fill="#4d4d4d" text-anchor="end">COP 1 (Germany)</text>
<line x1="102.87" y1="571.70" x2="102.87" y2="575.70" stroke="#111" stroke-width="1.35"/>
<text transform="translate(107.97,578.20) rotate(-90)" font-size="12.55" fill="#4d4d4d" text-anchor="end">COP 2 (Switzerland)^</text>
<line x1="114.55" y1="571.70" x2="114.55" y2="575.70" stroke="#111" stroke-width="1.35"/>
<text transform="translate(119.65,578.20) rotate(-90)" font-size="12.55" fill="#4d4d4d" text-anchor="end">COP 3 (Japan)</text>
<line x1="126.22" y1="571.70" x2="126.22" y2="575.70" stroke="#111" stroke-width="1.35"/>
<text transform="translate(131.32,578.20) rotate(-90)" font-size="12.55" fill="#4d4d4d" text-anchor="end">COP 4 (Argentina)</text>
<line x1="137.89" y1="571.70" x2="137.89" y2="575.70" stroke="#111" stroke-width="1.35"/>
<text transform="translate(142.99,578.20) rotate(-90)" font-size="12.55" fill="#4d4d4d" text-anchor="end">COP 5 (Germany)^</text>
<line x1="149.56" y1="571.70" x2="149.56" y2="575.70" stroke="#111" stroke-width="1.35"/>
<text transform="translate(154.66,578.20) rotate(-90)" font-size="12.55" fill="#4d4d4d" text-anchor="end">COP 6 (Netherlands)</text>
<line x1="161.23" y1="571.70" x2="161.23" y2="575.70" stroke="#111" stroke-width="1.35"/>
<text transform="translate(166.33,578.20) rotate(-90)" font-size="12.55" fill="#4d4d4d" text-anchor="end">COP 7 (Morocco)</text>
<line x1="172.90" y1="571.70" x2="172.90" y2="575.70" stroke="#111" stroke-width="1.35"/>
<text transform="translate(178.00,578.20) rotate(-90)" font-size="12.55" fill="#4d4d4d" text-anchor="end">COP 8 (India)</text>
<line x1="184.57" y1="571.70" x2="184.57" y2="575.70" stroke="#111" stroke-width="1.35"/>
<text transform="translate(189.67,578.20) rotate(-90)" font-size="12.55" fill="#4d4d4d" text-anchor="end">COP 9 (Italy)^</text>
<line x1="196.24" y1="571.70" x2="196.24" y2="575.70" stroke="#111" stroke-width="1.35"/>
<text transform="translate(201.34,578.20) rotate(-90)" font-size="12.55" fill="#4d4d4d" text-anchor="end">COP 10 (Argentina)</text>
<line x1="207.92" y1="571.70" x2="207.92" y2="575.70" stroke="#111" stroke-width="1.35"/>
<text transform="translate(213.02,578.20) rotate(-90)" font-size="12.55" fill="#4d4d4d" text-anchor="end">COP 11 (Canada)</text>
<line x1="219.59" y1="571.70" x2="219.59" y2="575.70" stroke="#111" stroke-width="1.35"/>
<text transform="translate(224.69,578.20) rotate(-90)" font-size="12.55" fill="#4d4d4d" text-anchor="end">COP 12 (Kenya)</text>
<line x1="231.26" y1="571.70" x2="231.26" y2="575.70" stroke="#111" stroke-width="1.35"/>
<text transform="translate(236.36,578.20) rotate(-90)" font-size="12.55" fill="#4d4d4d" text-anchor="end">COP 13 (Indonesia)</text>
<line x1="242.93" y1="571.70" x2="242.93" y2="575.70" stroke="#111" stroke-width="1.35"/>
<text transform="translate(248.03,578.20) rotate(-90)" font-size="12.55" fill="#4d4d4d" text-anchor="end">COP 14 (Poland)</text>
<line x1="254.60" y1="571.70" x2="254.60" y2="575.70" stroke="#111" stroke-width="1.35"/>
<text transform="translate(259.70,578.20) rotate(-90)" font-size="12.55" fill="#4d4d4d" text-anchor="end">COP 15 (Denmark)</text>
<line x1="266.27" y1="571.70" x2="266.27" y2="575.70" stroke="#111" stroke-width="1.35"/>
<text transform="translate(271.37,578.20) rotate(-90)" font-size="12.55" fill="#4d4d4d" text-anchor="end">COP 16 (Mexico)</text>
<line x1="277.94" y1="571.70" x2="277.94" y2="575.70" stroke="#111" stroke-width="1.35"/>
<text transform="translate(283.04,578.20) rotate(-90)" font-size="12.55" fill="#4d4d4d" text-anchor="end">COP 17 (South Africa)</text>
<line x1="289.61" y1="571.70" x2="289.61" y2="575.70" stroke="#111" stroke-width="1.35"/>
<text transform="translate(294.71,578.20) rotate(-90)" font-size="12.55" fill="#4d4d4d" text-anchor="end">COP 18 (Qatar)</text>
<line x1="301.28" y1="571.70" x2="301.28" y2="575.70" stroke="#111" stroke-width="1.35"/>
<text transform="translate(306.38,578.20) rotate(-90)" font-size="12.55" fill="#4d4d4d" text-anchor="end">COP 19 (Poland)</text>
<line x1="312.96" y1="571.70" x2="312.96" y2="575.70" stroke="#111" stroke-width="1.35"/>
<text transform="translate(318.06,578.20) rotate(-90)" font-size="12.55" fill="#4d4d4d" text-anchor="end">COP 20 (Peru)</text>
<line x1="324.63" y1="571.70" x2="324.63" y2="575.70" stroke="#111" stroke-width="1.35"/>
<text transform="translate(329.73,578.20) rotate(-90)" font-size="12.55" fill="#4d4d4d" text-anchor="end">COP 21 (France)</text>
<line x1="336.30" y1="571.70" x2="336.30" y2="575.70" stroke="#111" stroke-width="1.35"/>
<text transform="translate(341.40,578.20) rotate(-90)" font-size="12.55" fill="#4d4d4d" text-anchor="end">COP 22 (Morocco)</text>
<line x1="347.97" y1="571.70" x2="347.97" y2="575.70" stroke="#111" stroke-width="1.35"/>
<text transform="translate(353.07,578.20) rotate(-90)" font-size="12.55" fill="#4d4d4d" text-anchor="end">COP 23 (Germany)^</text>
<line x1="359.64" y1="571.70" x2="359.64" y2="575.70" stroke="#111" stroke-width="1.35"/>
<text transform="translate(364.74,578.20) rotate(-90)" font-size="12.55" fill="#4d4d4d" text-anchor="end">COP 24 (Poland)</text>
<line x1="371.31" y1="571.70" x2="371.31" y2="575.70" stroke="#111" stroke-width="1.35"/>
<text transform="translate(376.41,578.20) rotate(-90)" font-size="12.55" fill="#4d4d4d" text-anchor="end">COP 25 (Spain)^</text>
<line x1="382.98" y1="571.70" x2="382.98" y2="575.70" stroke="#111" stroke-width="1.35"/>
<text transform="translate(388.08,578.20) rotate(-90)" font-size="12.55" fill="#4d4d4d" text-anchor="end">COP 26 (United Kingdom)</text>
<line x1="394.65" y1="571.70" x2="394.65" y2="575.70" stroke="#111" stroke-width="1.35"/>
<text transform="translate(399.75,578.20) rotate(-90)" font-size="12.55" fill="#4d4d4d" text-anchor="end">COP 27 (Egypt)</text>
<line x1="406.33" y1="571.70" x2="406.33" y2="575.70" stroke="#111" stroke-width="1.35"/>
<text transform="translate(411.43,578.20) rotate(-90)" font-size="12.55" fill="#4d4d4d" text-anchor="end">COP 28 (United Arab Emirates)</text>
<line x1="418.00" y1="571.70" x2="418.00" y2="575.70" stroke="#111" stroke-width="1.35"/>
<text transform="translate(423.10,578.20) rotate(-90)" font-size="12.55" fill="#4d4d4d" text-anchor="end">COP 29 (Azerbaijan)</text>
<text transform="translate(24.8,491.40) rotate(-90)" font-size="15.5" text-anchor="middle">Proportion of attendees</text>
<text x="1.00" y="408.90" font-size="18" fill="#000" text-anchor="start" >C</text>
<text x="508.80" y="422.90" font-size="15.6" fill="#000" text-anchor="start" >Delegation region</text>
<rect x="509.40" y="433.30" width="18.50" height="18.50" fill="#e42622"/>
<text x="536.60" y="447.40" font-size="12.5" fill="#000" text-anchor="start" >East Asia &amp; Pacific</text>
<rect x="509.40" y="453.30" width="18.50" height="18.50" fill="#4eaf3c"/>
<text x="536.60" y="467.40" font-size="12.5" fill="#000" text-anchor="start" >Europe &amp; Central Asia</text>
<rect x="509.40" y="473.30" width="18.50" height="18.50" fill="#964eaa"/>
<text x="536.60" y="487.40" font-size="12.5" fill="#000" text-anchor="start" >Latin America &amp; Caribbean</text>
<rect x="509.40" y="493.30" width="18.50" height="18.50" fill="#f08124"/>
<text x="536.60" y="507.40" font-size="12.5" fill="#000" text-anchor="start" >Middle East &amp; North Africa</text>
<rect x="509.40" y="513.30" width="18.50" height="18.50" fill="#f0f846"/>
<text x="536.60" y="527.40" font-size="12.5" fill="#000" text-anchor="start" >North America</text>
<rect x="509.40" y="533.30" width="18.50" height="18.50" fill="#af5a2d"/>
<text x="536.60" y="547.40" font-size="12.5" fill="#000" text-anchor="start" >South Asia</text>
<rect x="509.40" y="553.30" width="18.50" height="18.50" fill="#ee7dc8"/>
<text x="536.60" y="567.40" font-size="12.5" fill="#000" text-anchor="start" >Sub-Saharan Africa</text>
<text x="254.00" y="767.00" font-size="15.5" fill="#000" text-anchor="middle" >UNFCCC Conference of the Parties Number</text>
</svg>
</body></html>
